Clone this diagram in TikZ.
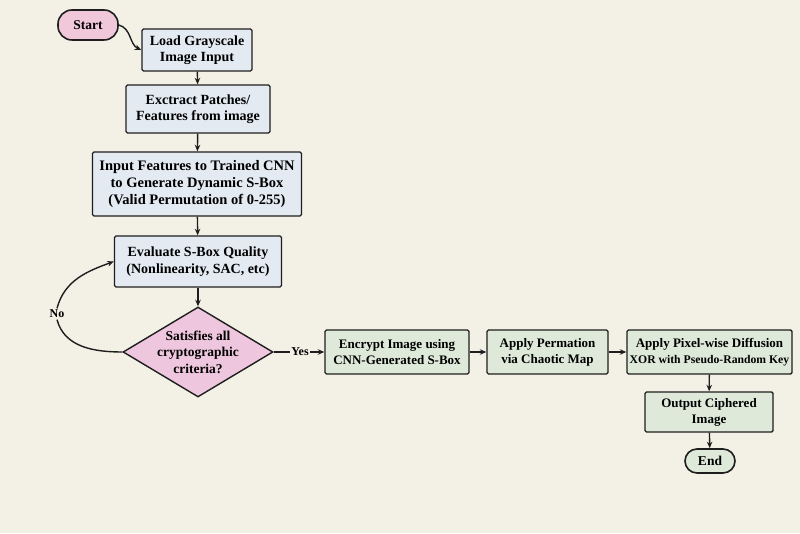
\documentclass[tikz,border=0pt]{standalone}
\usepackage{fontspec}
\setmainfont{Liberation Serif}
\usetikzlibrary{arrows.meta,shapes.geometric,positioning}
\definecolor{paper}{RGB}{243,240,230}
\definecolor{edgecol}{RGB}{30,30,30}
\definecolor{boxblue}{RGB}{228,234,242}
\definecolor{boxgreen}{RGB}{222,233,218}
\definecolor{termpink}{RGB}{240,200,218}
\definecolor{decpink}{RGB}{238,198,222}
\tikzset{
  stepbox/.style={draw=edgecol, line width=1.4pt, fill=boxblue, rounded corners=1.5pt,
    align=center, inner sep=2pt, font=\bfseries\fontsize{14}{16.5}\selectfont},
  encbox/.style={stepbox, fill=boxgreen, font=\bfseries\fontsize{13}{16}\selectfont},
  term/.style={draw=edgecol, line width=1.6pt, align=center, inner sep=2pt,
    font=\bfseries\fontsize{13.5}{15}\selectfont},
  decision/.style={diamond, draw=edgecol, line width=1.4pt, fill=decpink, aspect=1.67,
    inner sep=-2pt, align=center, font=\bfseries\fontsize{13.5}{16.5}\selectfont},
  flow/.style={->, line width=1.4pt, draw=edgecol},
  tag/.style={fill=paper, inner sep=1.5pt, font=\bfseries\fontsize{12}{13}\selectfont}
}
\begin{document}
\begin{tikzpicture}[>={Stealth[length=6.5pt,width=5.5pt]}, x=1pt, y=1pt]
  \useasboundingbox[fill=paper] (0,0) rectangle (800,533);
  % left column: S-box generation
  \node[term, fill=termpink, rounded corners=14pt, minimum width=60pt, minimum height=30pt]
    (start) at (88,508) {Start};
  \node[stepbox, minimum width=110pt, minimum height=42pt] (load) at (197,483)
    {Load Grayscale\\Image Input};
  \node[stepbox, minimum width=144pt, minimum height=48pt] (extract) at (198,424)
    {Exctract Patches/\\Features from image};
  \node[stepbox, minimum width=209pt, minimum height=64pt,
    font=\bfseries\fontsize{14.5}{17}\selectfont] (cnn) at (197,349)
    {Input Features to Trained CNN\\to Generate Dynamic S-Box\\(Valid Permutation of 0-255)};
  \node[stepbox, minimum width=167pt, minimum height=51pt] (eval) at (198,271.5)
    {Evaluate S-Box Quality\\(Nonlinearity, SAC, etc)};
  \node[decision, minimum width=150pt, minimum height=90pt] (decide) at (198,181)
    {Satisfies all\\cryptographic\\criteria?};
  \node[tag] (no) at (57,219) {No};
  \node[tag] (yes) at (300,181) {Yes};
  % bottom row: encryption
  \node[encbox, minimum width=144pt, minimum height=44pt] (encrypt) at (397,181)
    {Encrypt Image using\\CNN-Generated S-Box};
  \node[encbox, minimum width=121pt, minimum height=44pt] (permute) at (547.5,181)
    {Apply Permation\\via Chaotic Map};
  \node[encbox, minimum width=165pt, minimum height=44pt] (diffuse) at (709.5,181)
    {Apply Pixel-wise Diffusion\\{\fontsize{11.7}{16}\selectfont XOR with Pseudo-Random Key}};
  \node[encbox, minimum width=128pt, minimum height=40pt] (output) at (709,121)
    {Output Ciphered\\Image};
  \node[term, fill=boxgreen, rounded corners=12pt, minimum width=50pt, minimum height=24pt]
    (end) at (710,72) {End};
  % connectors
  \draw[flow] (start.east) to[out=-15,in=155] (load.west);
  \draw[flow] (load) -- (extract);
  \draw[flow] (extract) -- (cnn);
  \draw[flow] (cnn) -- (eval);
  \draw[flow] (eval) -- (decide);
  \draw[line width=1.4pt, edgecol] (decide.west) to[out=180,in=-75] (no.south);
  \draw[flow] (no.north) to[out=75,in=200] (eval.west);
  \draw[line width=1.4pt, edgecol] (decide.east) -- (yes.west);
  \draw[flow] (yes.east) -- (encrypt.west);
  \draw[flow] (encrypt) -- (permute);
  \draw[flow] (permute) -- (diffuse);
  \draw[flow] (diffuse) -- (output);
  \draw[flow] (output) -- (end);
\end{tikzpicture}
\end{document}
